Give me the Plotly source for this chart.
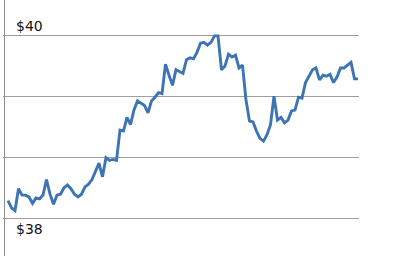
import plotly.graph_objects as go

prices = [
    38.19, 38.11, 38.08, 38.32, 38.25, 38.25, 38.23, 38.16, 38.22, 38.21,
    38.25, 38.42, 38.26, 38.15, 38.25, 38.26, 38.33, 38.36, 38.32, 38.26,
    38.23, 38.26, 38.34, 38.37, 38.42, 38.52, 38.60, 38.45, 38.66, 38.63,
    38.64, 38.63, 38.96, 38.95, 39.10, 39.02, 39.18, 39.28, 39.25, 39.23,
    39.15, 39.28, 39.32, 39.37, 39.36, 39.68, 39.56, 39.45, 39.62, 39.60,
    39.58, 39.73, 39.75, 39.74, 39.81, 39.91, 39.92, 39.89, 39.92, 39.99,
    39.99, 39.62, 39.66, 39.79, 39.76, 39.78, 39.64, 39.67, 39.29, 39.06,
    39.05, 38.95, 38.87, 38.84, 38.91, 39.02, 39.33, 39.07, 39.10, 39.04,
    39.07, 39.17, 39.18, 39.32, 39.31, 39.48, 39.55, 39.62, 39.64, 39.51,
    39.56, 39.55, 39.57, 39.48, 39.54, 39.64, 39.64, 39.67, 39.70, 39.52,
    39.52,
]
days = list(range(len(prices)))
grid_values = [38.0, 38.6667, 39.3333, 40.0]
label_values = [40, 38]
label_texts = ["$40", "$38"]

fig = go.Figure()
fig.add_trace(go.Scatter(
    x=days, y=prices, mode="lines",
    line=dict(color="#3d74b4", width=2.9),
    hoverinfo="skip", showlegend=False,
))

fig.update_layout(
    width=400, height=256,
    margin=dict(l=0, r=0, t=0, b=0),
    paper_bgcolor="white", plot_bgcolor="white",
    xaxis=dict(domain=[3/400, 359/400], range=[-1.4286, 100.2857],
               showgrid=False, zeroline=False, showticklabels=False,
               showline=False, ticks=""),
    yaxis=dict(range=[37.5847, 40.3825], tickvals=grid_values,
               showgrid=True, gridcolor="#9e9e9e", gridwidth=1,
               zeroline=False, showticklabels=False, showline=False, ticks=""),
    showlegend=False,
)

fig.add_shape(type="line", xref="paper", yref="paper",
              x0=4/356, x1=4/356, y0=0, y1=1,
              line=dict(color="#8c8c8c", width=1))

shifts = {40: 9, 38: -11}
for v, t in zip(label_values, label_texts):
    fig.add_annotation(x=14/400, xref="paper", xanchor="left",
                       y=v, yref="y", yanchor="middle", yshift=shifts[v],
                       text=t, showarrow=False,
                       font=dict(family="DejaVu Sans", size=14, color="#111111"))

fig.write_html("out.html")
